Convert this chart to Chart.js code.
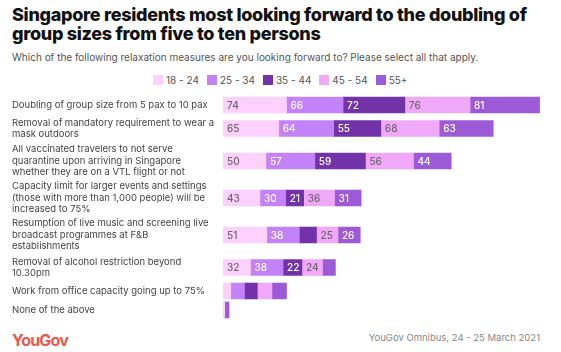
<!DOCTYPE html>
<html>
<head>
<meta charset="utf-8">
<script src="https://cdn.jsdelivr.net/npm/chart.js@4"></script>
<style>
  body { margin: 0; background: #fff; font-family: Inter, "Noto Sans", sans-serif; }
  #page { position: relative; width: 561px; height: 352px; overflow: hidden; }
  .title { position: absolute; left: 12px; top: 5px; font-size: 18px; line-height: 19px; font-weight: 800; color: #111; letter-spacing: -0.3px; }
  .subtitle { position: absolute; left: 12px; top: 51px; font-size: 10px; color: #555; }
  #legend { position: absolute; left: 153px; top: 74px; display: flex; font-size: 10px; color: #555; }
  #legend span.item { display: flex; align-items: center; margin-right: 8px; }
  #legend span.box { display: inline-block; width: 10px; height: 10px; margin-right: 3px; }
  #chartWrap { position: absolute; left: 0; top: 90px; width: 561px; height: 235px; }
  .logo { position: absolute; left: 12px; top: 330px; font-size: 16px; font-weight: 700; color: #e9584b; letter-spacing: -0.8px; }
  .source { position: absolute; right: 21px; top: 332px; font-size: 9.5px; color: #888; }
</style>
</head>
<body>
<div id="page">
  <div class="title">Singapore residents most looking forward to the doubling of<br>group sizes from five to ten persons</div>
  <div class="subtitle">Which of the following relaxation measures are you looking forward to? Please select all that apply.</div>
  <div id="legend"></div>
  <div id="chartWrap"><canvas id="myChart"></canvas></div>
  <div class="logo">YouGov</div>
  <div class="source">YouGov Omnibus, 24 - 25 March 2021</div>
</div>
<script>
const categories = [
    ['Doubling of group size from 5 pax to 10 pax'],
    ['Removal of mandatory requirement to wear a', 'mask outdoors'],
    ['All vaccinated travelers to not serve', 'quarantine upon arriving in Singapore', 'whether they are on a VTL flight or not'],
    ['Capacity limit for larger events and settings', '(those with more than 1,000 people) will be', 'increased to 75%'],
    ['Resumption of live music and screening live', 'broadcast programmes at F&B', 'establishments'],
    ['Removal of alcohol restriction beyond', '10.30pm'],
    ['Work from office capacity going up to 75%'],
    ['None of the above'],
];
const ageGroups = ['18 - 24', '25 - 34', '35 - 44', '45 - 54', '55+'];
const age18to24 = [74, 65, 50, 43, 51, 32, 9, 2];
const age25to34 = [66, 64, 57, 30, 38, 38, 16, 0];
const age35to44 = [72, 55, 59, 21, 20, 22, 15, 0];
const age45to54 = [76, 68, 56, 36, 25, 24, 17, 0];
const age55plus = [81, 63, 44, 31, 26, 15, 17, 5];

const colors = ['#fdd1fd', '#c382fa', '#7233a8', '#f0a9f9', '#9d5ad6'];
const textColors = ['#6e646e', '#ffffff', '#ffffff', '#6e646e', '#ffffff'];

// row height depends on how many lines the label takes
const rowHeights = categories.map((c) => 10 + 9 * c.length);
const rowPos = [];
rowHeights.forEach((h, i) => {
    rowPos.push(i === 0 ? 0 : rowPos[i - 1] + (rowHeights[i - 1] + h) / 2);
});

const series = [age18to24, age25to34, age35to44, age45to54, age55plus];

// html legend
const legendEl = document.getElementById('legend');
ageGroups.forEach((g, i) => {
    legendEl.innerHTML += '<span class="item"><span class="box" style="background:' + colors[i] + '"></span>' + g + '</span>';
});

const valueLabels = {
    id: 'valueLabels',
    afterDatasetsDraw: (chart) => {
        const ctx = chart.ctx;
        ctx.save();
        ctx.font = '500 10px Inter';
        ctx.textBaseline = 'middle';
        ctx.textAlign = 'left';
        chart.data.datasets.forEach((ds, i) => {
            chart.getDatasetMeta(i).data.forEach((bar, j) => {
                const v = ds.data[j].x;
                if (v < 21) return;
                ctx.fillStyle = textColors[i];
                ctx.fillText(v, bar.base + 4, bar.y + 0.5);
            });
        });
        ctx.restore();
    },
};

const data = {
    datasets: series.map((vals, i) => ({
        label: ageGroups[i],
        data: vals.map((v, j) => ({ x: v, y: rowPos[j] })),
        backgroundColor: colors[i],
        borderWidth: 0,
        barThickness: 16,
    })),
};

const config = {
    type: 'bar',
    data: data,
    options: {
        indexAxis: 'y',
        responsive: true,
        maintainAspectRatio: false,
        animation: false,
        layout: {
            padding: { left: 12, right: 12, top: 5.5, bottom: 5.5 },
        },
        scales: {
            x: {
                stacked: true,
                display: false,
                min: 0,
                max: 380,
            },
            y: {
                type: 'linear',
                stacked: true,
                reverse: true,
                offset: false,
                min: -rowHeights[0] / 2,
                max: rowPos[rowPos.length - 1] + rowHeights[rowHeights.length - 1] / 2,
                grid: { display: false, offset: false },
                border: { display: false },
                afterBuildTicks: (axis) => {
                    axis.ticks = rowPos.map((v) => ({ value: v }));
                },
                afterFit: (axis) => {
                    axis.width = 211;
                    axis.paddingTop = 0;
                    axis.paddingBottom = 0;
                },
                ticks: {
                    autoSkip: false,
                    crossAlign: 'far',
                    padding: 0,
                    color: '#444',
                    font: { family: 'Inter', size: 9.5, lineHeight: 1.2 },
                    callback: (value, index) => categories[index],
                },
            },
        },
        plugins: {
            legend: { display: false },
            tooltip: { enabled: false },
        },
    },
    plugins: [valueLabels],
};

const myChart = new Chart(document.getElementById('myChart'), config);
</script>
</body>
</html>
